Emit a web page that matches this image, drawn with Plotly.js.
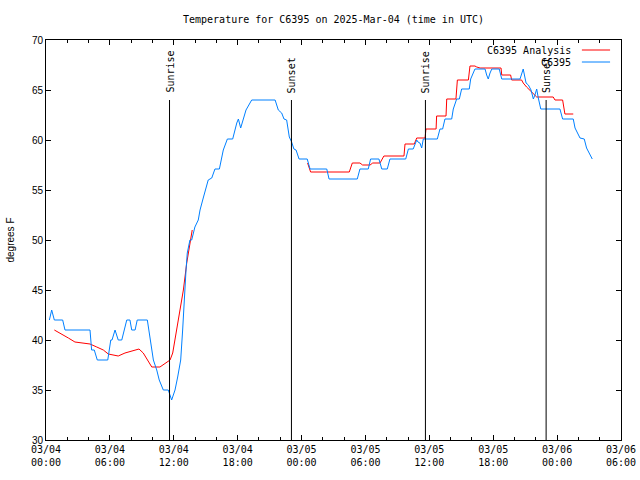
<!DOCTYPE html>
<html>
<head>
<meta charset="utf-8">
<script src="https://cdn.plot.ly/plotly-3.0.1.min.js"></script>
<style>html,body{margin:0;padding:0;background:#fff;}#chart{width:640px;height:480px;}</style>
</head>
<body>
<div id="chart"></div>
<script>
// Observed station temperatures (C6395)
const obsTimes = [
 "2025-03-04 00:19","2025-03-04 00:32","2025-03-04 00:47","2025-03-04 01:34","2025-03-04 01:47",
 "2025-03-04 04:08","2025-03-04 04:17","2025-03-04 04:32","2025-03-04 04:49","2025-03-04 05:48",
 "2025-03-04 06:05","2025-03-04 06:12","2025-03-04 06:29","2025-03-04 06:47","2025-03-04 07:07",
 "2025-03-04 07:35","2025-03-04 07:53","2025-03-04 08:03","2025-03-04 08:22","2025-03-04 08:34",
 "2025-03-04 09:31","2025-03-04 09:50","2025-03-04 10:05","2025-03-04 10:24","2025-03-04 10:38",
 "2025-03-04 11:01","2025-03-04 11:29","2025-03-04 11:48","2025-03-04 12:07","2025-03-04 12:22",
 "2025-03-04 12:39","2025-03-04 12:50","2025-03-04 12:58","2025-03-04 13:09","2025-03-04 13:16",
 "2025-03-04 13:31","2025-03-04 13:41","2025-03-04 13:50","2025-03-04 13:59","2025-03-04 14:18",
 "2025-03-04 14:28","2025-03-04 14:46","2025-03-04 15:14","2025-03-04 15:34","2025-03-04 15:52",
 "2025-03-04 16:17","2025-03-04 16:39","2025-03-04 17:02","2025-03-04 17:32","2025-03-04 17:55",
 "2025-03-04 18:04","2025-03-04 18:17","2025-03-04 18:47","2025-03-04 19:19","2025-03-04 21:31",
 "2025-03-04 21:49","2025-03-04 22:08","2025-03-04 22:21","2025-03-04 22:36","2025-03-04 22:51",
 "2025-03-04 23:04","2025-03-04 23:17","2025-03-04 23:29","2025-03-04 23:46","2025-03-05 00:32",
 "2025-03-05 00:48","2025-03-05 02:22","2025-03-05 02:35","2025-03-05 05:14","2025-03-05 05:29",
 "2025-03-05 06:16","2025-03-05 06:29","2025-03-05 07:16","2025-03-05 07:32","2025-03-05 08:03",
 "2025-03-05 08:18","2025-03-05 09:47","2025-03-05 10:02","2025-03-05 10:29","2025-03-05 10:49",
 "2025-03-05 10:56","2025-03-05 11:07","2025-03-05 11:17","2025-03-05 11:26","2025-03-05 12:45",
 "2025-03-05 13:00","2025-03-05 13:15","2025-03-05 13:28","2025-03-05 14:06","2025-03-05 14:15",
 "2025-03-05 14:34","2025-03-05 14:49","2025-03-05 15:02","2025-03-05 15:45","2025-03-05 15:53",
 "2025-03-05 16:17","2025-03-05 17:14","2025-03-05 17:23","2025-03-05 17:32","2025-03-05 17:42",
 "2025-03-05 17:52","2025-03-05 18:34","2025-03-05 18:48","2025-03-05 20:31","2025-03-05 20:40",
 "2025-03-05 20:49","2025-03-05 21:05","2025-03-05 21:18","2025-03-05 21:33","2025-03-05 21:46",
 "2025-03-05 21:55","2025-03-05 22:05","2025-03-05 22:14","2025-03-05 22:28","2025-03-06 00:16",
 "2025-03-06 00:31","2025-03-06 01:31","2025-03-06 01:41","2025-03-06 02:09","2025-03-06 02:33",
 "2025-03-06 02:46","2025-03-06 02:59","2025-03-06 03:18"
];
const obsTemps = [
 42,43,42,42,41,
 41,39,39,38,38,
 40,40,41,40,40,
 42,42,41,41,42,
 42,40,38,37,36,
 35,35,34,35,36.3,
 38,41,44,47,48.7,
 50,50,50.7,51.3,52,
 53,54.2,56,56.2,57.1,
 57.1,59,60.1,60.1,61.7,
 62.1,61.2,63,64,64,
 63,62.7,62.1,62,60.3,
 59.8,59.1,59,58.1,58.1,
 57.1,57.1,56.1,56.1,57.1,
 57.1,58.1,58.1,57.1,57.1,
 58.1,58.1,59.1,59.1,60,
 59.8,59.7,59.2,60.1,60.1,
 61.1,61.1,62.1,62.1,63.1,
 64.1,64.1,65.1,65.1,66.1,
 67.1,67.1,66.5,66.1,66.7,
 67.1,67.1,66.1,66.1,66.7,
 67.1,65.7,65.5,65,64.1,
 64.5,65.1,64.2,63.1,63.1,
 62.1,62.1,61.2,60.2,60.1,
 59.2,58.7,58.1
];
// Analysis temperatures (C6395 Analysis); null marks the gap
const anaTimes = [
 "2025-03-04 00:47","2025-03-04 01:19","2025-03-04 02:06","2025-03-04 02:43","2025-03-04 04:08",
 "2025-03-04 04:46","2025-03-04 05:23","2025-03-04 05:51","2025-03-04 06:19","2025-03-04 06:47",
 "2025-03-04 07:25","2025-03-04 08:03","2025-03-04 08:44","2025-03-04 09:08","2025-03-04 09:36",
 "2025-03-04 09:56","2025-03-04 10:42","2025-03-04 11:11","2025-03-04 11:39","2025-03-04 11:54",
 "2025-03-04 12:13","2025-03-04 12:35","2025-03-04 12:54","2025-03-04 13:13","2025-03-04 13:27",
 "2025-03-04 13:44","2025-03-04 19:00",
 "2025-03-05 00:34","2025-03-05 00:51","2025-03-05 02:22","2025-03-05 02:29","2025-03-05 03:33",
 "2025-03-05 04:29","2025-03-05 04:46","2025-03-05 05:29","2025-03-05 05:44","2025-03-05 06:26",
 "2025-03-05 06:41","2025-03-05 07:22","2025-03-05 07:44","2025-03-05 09:37","2025-03-05 09:43",
 "2025-03-05 10:35","2025-03-05 10:49","2025-03-05 11:36","2025-03-05 11:41","2025-03-05 12:38",
 "2025-03-05 12:41","2025-03-05 13:34","2025-03-05 13:38","2025-03-05 14:30","2025-03-05 14:38",
 "2025-03-05 15:40","2025-03-05 15:49","2025-03-05 16:17","2025-03-05 16:27","2025-03-05 16:46",
 "2025-03-05 18:44","2025-03-05 18:48","2025-03-05 19:38","2025-03-05 19:44","2025-03-05 20:40",
 "2025-03-05 20:49","2025-03-05 21:08","2025-03-05 21:27","2025-03-05 21:46","2025-03-05 22:05",
 "2025-03-05 23:38","2025-03-05 23:48","2025-03-06 00:31","2025-03-06 00:44","2025-03-06 01:31"
];
const anaTemps = [
 41,40.7,40.2,39.8,39.6,
 39.3,39,38.6,38.5,38.4,
 38.7,38.9,39.1,38.7,37.8,
 37.3,37.3,37.7,38,38.7,
 40.7,43,45,47.7,49.3,
 51,null,
 57.7,56.8,56.8,56.8,56.8,
 56.8,57.7,57.7,57.5,57.5,
 57.7,57.7,58.4,58.4,59.6,
 59.6,60.2,60.2,61.1,61.1,
 62.4,62.4,64.1,64.1,66,
 66,67.4,67.4,67.3,67.2,
 67.2,66.5,66.5,66,66,
 65.7,65.3,65,64.6,64.3,
 64.3,64,64,62.6,62.6
];
// Sun events
const sunTimes = ["2025-03-04 11:36","2025-03-04 23:03","2025-03-05 11:38","2025-03-05 22:58"];
const sunLabels = ["Sunrise","Sunset","Sunrise","Sunset"];
const sunLineTop = 64;
const seriesNames = ["C6395 Analysis","C6395"];
const seriesColors = ["#ff0000","#0080ff"];
const xTickFormat = "%m/%d<br>%H:%M";

const mono = "DejaVu Sans Mono, Liberation Mono, monospace";
const sans = "Liberation Sans, Arial, sans-serif";

const traces = [
 {x: anaTimes, y: anaTemps, type: "scatter", mode: "lines", name: seriesNames[0],
  line: {color: seriesColors[0], width: 1}, connectgaps: false, showlegend: false},
 {x: obsTimes, y: obsTemps, type: "scatter", mode: "lines", name: seriesNames[1],
  line: {color: seriesColors[1], width: 1}, showlegend: false}
];

const shapes = sunTimes.map(t => ({
 type: "line", xref: "x", yref: "y", x0: t, x1: t, y0: 30, y1: sunLineTop,
 line: {color: "#000", width: 1}
}));
// legend samples
const legY = [0.975, 0.945];
seriesNames.forEach((n, i) => {
 shapes.push({type: "line", xref: "paper", yref: "paper", x0: 0.932, x1: 0.981, y0: legY[i], y1: legY[i],
  line: {color: seriesColors[i], width: 1}});
});

const annotations = sunTimes.map((t, i) => ({
 x: t, y: sunLineTop, xref: "x", yref: "y", text: sunLabels[i], showarrow: false,
 textangle: -90, xanchor: "center", yanchor: "bottom", yshift: 5,
 font: {family: mono, size: 10, color: "#000"}
}));
seriesNames.forEach((n, i) => {
 annotations.push({x: 0.917, y: legY[i], xref: "paper", yref: "paper", text: n, showarrow: false,
  xanchor: "right", yanchor: "middle", font: {family: mono, size: 10, color: "#000"}});
});

const layout = {
 width: 640, height: 480,
 margin: {l: 46, r: 19, t: 40, b: 40},
 paper_bgcolor: "#fff", plot_bgcolor: "#fff",
 title: {text: "Temperature for C6395 on 2025-Mar-04 (time in UTC)", x: 0.5, xref: "paper",
  y: 1 - 19/480, yref: "container", yanchor: "middle",
  font: {family: mono, size: 10, color: "#000"}},
 xaxis: {type: "date", range: ["2025-03-04 00:00", "2025-03-06 06:00"],
  tick0: "2025-03-04 00:00", dtick: 6*3600*1000, tickformat: xTickFormat,
  ticks: "inside", ticklen: 5, tickcolor: "#000", showgrid: false, zeroline: false,
  showline: true, linecolor: "#000", linewidth: 1, mirror: "ticks",
  minor: {dtick: 2*3600*1000, ticks: "inside", ticklen: 3, tickcolor: "#000", showgrid: false},
  tickfont: {family: mono, size: 10, color: "#000"}},
 yaxis: {range: [30, 70], dtick: 5, ticks: "inside", ticklen: 5, tickcolor: "#000",
  showgrid: false, zeroline: false, showline: true, linecolor: "#000", linewidth: 1, mirror: "ticks",
  tickfont: {family: sans, size: 10, color: "#000"},
  title: {text: "degrees F", standoff: 15, font: {family: sans, size: 10, color: "#000"}}},
 shapes: shapes,
 annotations: annotations,
 showlegend: false
};

Plotly.newPlot("chart", traces, layout, {displayModeBar: false, staticPlot: true});
</script>
</body>
</html>
